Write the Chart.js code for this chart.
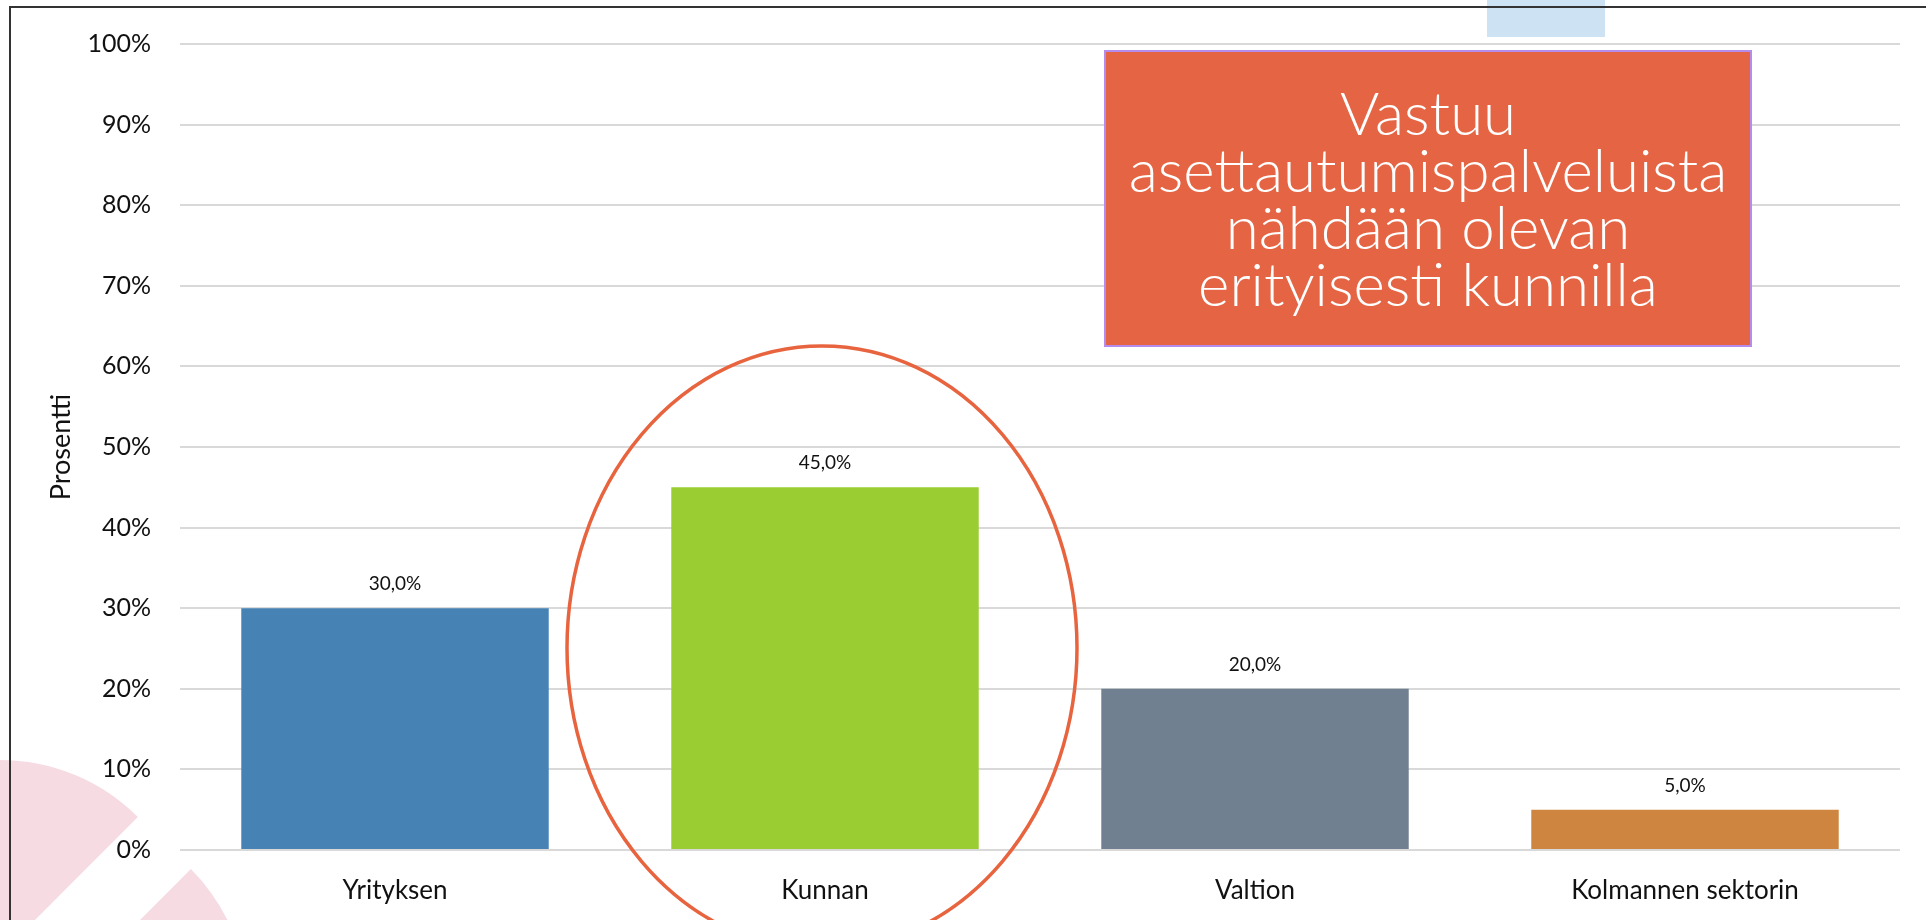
<!DOCTYPE html>
<html>
<head>
<meta charset="utf-8">
<script src="https://cdn.jsdelivr.net/npm/chart.js@4.4.1/dist/chart.umd.min.js"></script>
<style>
  html, body { margin: 0; padding: 0; background: #fff; }
  #wrap { width: 1926px; height: 920px; position: relative; }
</style>
</head>
<body>
<div id="wrap"><canvas id="vastuuchart"></canvas></div>
<script>
const labels = ['Yrityksen', 'Kunnan', 'Valtion', 'Kolmannen sektorin'];
const values = [30.0, 45.0, 20.0, 5.0];
const barColors = ['#4682B4', '#9ACD32', '#708090', '#CD853F'];
const yTicks = [0, 10, 20, 30, 40, 50, 60, 70, 80, 90, 100];
const calloutLines = ['Vastuu', 'asettautumispalveluista', 'nähdään olevan', 'erityisesti kunnilla'];

const FONT = 'Lato, "Noto Sans", sans-serif';

function fmt(v) {
    return v.toFixed(1).replace('.', ',') + '%';
}

// slide background bits: pink wedges bottom-left, blue strip top
const backdrop = {
    id: 'backdrop',
    beforeDraw(chart) {
        const c = chart.ctx;
        c.save();
        c.fillStyle = '#F6DCE2';
        c.beginPath();
        c.moveTo(0, 955);
        c.arc(0, 955, 195, -Math.PI / 2, -Math.PI / 4);
        c.closePath();
        c.fill();
        c.beginPath();
        c.moveTo(53, 1007);
        c.arc(53, 1007, 195, -Math.PI / 4, Math.PI / 6);
        c.closePath();
        c.fill();
        c.fillStyle = '#CDE2F3';
        c.fillRect(1487, 0, 118, 37);
        c.restore();
    }
};

// value labels above bars
const barValues = {
    id: 'barValues',
    afterDatasetsDraw(chart) {
        const c = chart.ctx;
        const meta = chart.getDatasetMeta(0);
        c.save();
        c.font = '19px ' + FONT;
        c.fillStyle = '#111';
        c.textAlign = 'center';
        c.textBaseline = 'middle';
        meta.data.forEach((bar, i) => {
            c.fillText(fmt(values[i]), bar.x, bar.y - 24);
        });
        c.restore();
    }
};

// frame, ellipse round Kunnan and the orange callout box
const overlay = {
    id: 'overlay',
    afterDraw(chart) {
        const c = chart.ctx;
        c.save();
        c.strokeStyle = '#333';
        c.lineWidth = 2;
        c.beginPath();
        c.moveTo(10, 920);
        c.lineTo(10, 7);
        c.lineTo(1926, 7);
        c.stroke();

        const bar = chart.getDatasetMeta(0).data[1];
        c.strokeStyle = '#E8643F';
        c.lineWidth = 3.5;
        c.beginPath();
        c.ellipse(bar.x - 3, 648, 255, 302, 0, 0, Math.PI * 2);
        c.stroke();

        c.fillStyle = '#E46443';
        c.fillRect(1105, 51, 646, 295);
        c.strokeStyle = '#B48CEB';
        c.lineWidth = 2;
        c.strokeRect(1105, 51, 646, 295);

        c.fillStyle = '#fff';
        c.font = '300 60px ' + FONT;
        c.textAlign = 'center';
        c.textBaseline = 'middle';
        calloutLines.forEach((t, i) => {
            c.fillText(t, 1428, 116 + i * 57);
        });
        c.restore();
    }
};

const data = {
    labels: labels,
    datasets: [
        {
            label: 'Prosentti',
            data: values,
            backgroundColor: barColors,
            borderWidth: 0,
            categoryPercentage: 1.0,
            barPercentage: 0.715
        }
    ]
};

const config = {
    type: 'bar',
    data: data,
    options: {
        responsive: true,
        maintainAspectRatio: false,
        animation: false,
        layout: {
            padding: { left: 0, right: 26, top: 20, bottom: 0 }
        },
        plugins: {
            legend: { display: false },
            tooltip: { enabled: false }
        },
        scales: {
            x: {
                grid: { display: false },
                border: { display: false },
                ticks: {
                    color: '#111',
                    padding: 17,
                    font: { family: FONT, size: 26 }
                },
                afterFit(scale) { scale.height = 70; }
            },
            y: {
                min: 0,
                max: 100,
                afterBuildTicks(scale) {
                    scale.ticks = yTicks.map(v => ({ value: v }));
                },
                border: { display: false },
                grid: {
                    color: '#D9D9D9',
                    lineWidth: 2,
                    drawTicks: false
                },
                ticks: {
                    color: '#111',
                    padding: 29,
                    font: { family: FONT, size: 25 },
                    callback: v => v + '%'
                },
                title: {
                    display: true,
                    text: 'Prosentti',
                    color: '#111',
                    padding: { top: 45, bottom: 0 },
                    font: { family: FONT, size: 27 }
                },
                afterFit(scale) { scale.width = 180; }
            }
        }
    },
    plugins: [backdrop, barValues, overlay]
};

const ctx = document.getElementById('vastuuchart').getContext('2d');
const chart = new Chart(ctx, config);
</script>
</body>
</html>
